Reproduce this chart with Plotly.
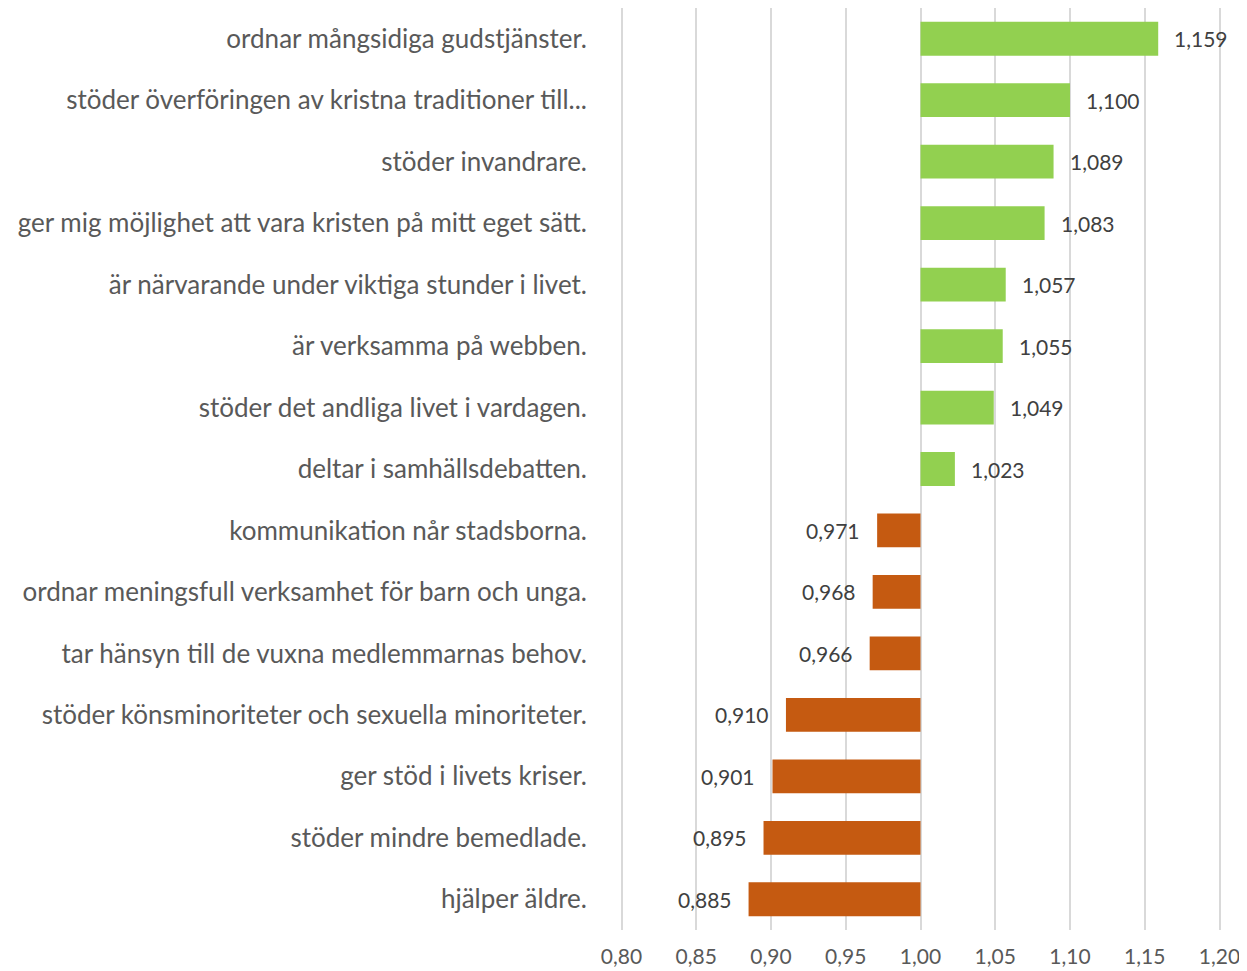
import plotly.graph_objects as go

categories = [
    "ordnar mångsidiga gudstjänster.",
    "stöder överföringen av kristna traditioner till...",
    "stöder invandrare.",
    "ger mig möjlighet att vara kristen på mitt eget sätt.",
    "är närvarande under viktiga stunder i livet.",
    "är verksamma på webben.",
    "stöder det andliga livet i vardagen.",
    "deltar i samhällsdebatten.",
    "kommunikation når stadsborna.",
    "ordnar meningsfull verksamhet för barn och unga.",
    "tar hänsyn till de vuxna medlemmarnas behov.",
    "stöder könsminoriteter och sexuella minoriteter.",
    "ger stöd i livets kriser.",
    "stöder mindre bemedlade.",
    "hjälper äldre.",
]
values = [1.159, 1.100, 1.089, 1.083, 1.057, 1.055, 1.049, 1.023,
          0.971, 0.968, 0.966, 0.910, 0.901, 0.895, 0.885]
baseline = 1.0
tick_vals = [0.80, 0.85, 0.90, 0.95, 1.00, 1.05, 1.10, 1.15, 1.20]

GREEN = "#92D050"
ORANGE = "#C55A11"

colors = [GREEN if v >= baseline else ORANGE for v in values]
labels = [f"{v:.3f}".replace(".", ",") for v in values]

fig = go.Figure()
fig.add_trace(go.Bar(
    y=categories,
    x=[v - baseline for v in values],
    base=[baseline] * len(values),
    orientation="h",
    marker_color=colors,
    marker_line_width=0,
    width=0.55,
    showlegend=False,
    hoverinfo="skip",
))

# value labels, a bit away from the bar end
for cat, v, lab in zip(categories, values, labels):
    up = v >= baseline
    fig.add_annotation(
        x=v, y=cat, text=lab, showarrow=False,
        xanchor="left" if up else "right",
        xshift=14 if up else -15,
        font=dict(family="Lato, Open Sans, sans-serif", size=21, color="#404040"),
    )

# page body adds 8px margin, so the figure is a bit smaller than the window
fig.update_layout(
    width=1239, height=963,
    margin=dict(l=612, r=26, t=0, b=41),
    paper_bgcolor="white", plot_bgcolor="white",
    separators=", ",
)
fig.update_xaxes(
    range=[0.799, 1.201],
    tickvals=tick_vals,
    tickformat=".2f",
    showgrid=True, gridcolor="#D9D9D9", gridwidth=2,
    zeroline=False, showline=False,
    tickfont=dict(family="Lato, Open Sans, sans-serif", size=21, color="#595959"),
    ticks="", ticklabelstandoff=12,
    automargin=False,
)
fig.update_yaxes(
    autorange="reversed",
    showgrid=False, zeroline=False, showline=False,
    ticks="", ticklabelstandoff=32,
    tickfont=dict(family="Lato, Noto Sans, sans-serif", size=26, color="#595959"),
    automargin=False,
)

fig.write_html("out.html")
